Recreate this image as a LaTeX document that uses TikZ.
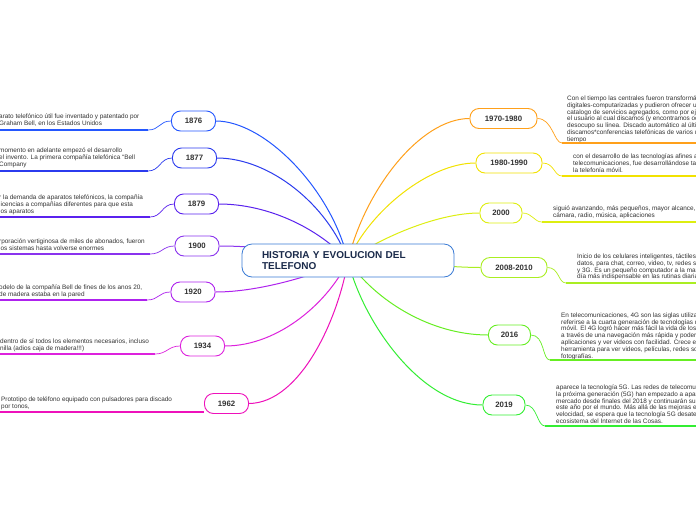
\documentclass[tikz,border=0pt]{standalone}
\usepackage{fontspec}
\setmainfont{Liberation Sans}
\usetikzlibrary{backgrounds}
\definecolor{txt}{HTML}{333333}
\definecolor{ctitle}{HTML}{1A2A4A}
\definecolor{cblue}{HTML}{3A7BD5}
\definecolor{c1876}{HTML}{2457FF}
\definecolor{c1877}{HTML}{2B3BEE}
\definecolor{c1879}{HTML}{5A22EE}
\definecolor{c1900}{HTML}{8A33EE}
\definecolor{c1920}{HTML}{AE22EE}
\definecolor{c1934}{HTML}{DD22DD}
\definecolor{c1962}{HTML}{EE11BB}
\definecolor{c1970}{HTML}{FFA01A}
\definecolor{c1980}{HTML}{F2E200}
\definecolor{c2000}{HTML}{DDEE10}
\definecolor{c2008}{HTML}{AAEE22}
\definecolor{c2016}{HTML}{66EE22}
\definecolor{c2019}{HTML}{33EE33}
\begin{document}
\begin{tikzpicture}[x=1pt,y=-1pt,
  year/.style={draw=#1, line width=0.9pt, rounded corners=9pt, fill=white,
    minimum width=44pt, minimum height=20pt, inner sep=0pt,
    font=\fontsize{7.8}{8}\selectfont\bfseries, text=txt},
  desc/.style={anchor=north west, inner sep=0pt, align=left,
    font=\fontsize{6.4}{6.8}\selectfont, text=txt},
  br/.style={draw=#1, line width=1pt},
  sub/.style={draw=#1, line width=0.7pt},
  ul/.style={draw=#1, line width=1.5pt}
]
\useasboundingbox (0,0) rectangle (696,520);
\clip (0,0) rectangle (696,520);

% central node
\node[draw=cblue, line width=0.8pt, rounded corners=10pt, fill=white,
  minimum width=212pt, minimum height=33pt, inner xsep=20pt, text width=172pt,
  align=left, font=\fontsize{10}{11.5}\selectfont\bfseries, text=ctitle] (c) at (348,260.5)
  {HISTORIA Y EVOLUCION DEL\\TELEFONO};

% year nodes left
\node[year=c1876] (n1876) at (193.5,121) {1876};
\node[year=c1877] (n1877) at (194.5,158) {1877};
\node[year=c1879] (n1879) at (196.5,204) {1879};
\node[year=c1900] (n1900) at (197,246) {1900};
\node[year=c1920] (n1920) at (193,292) {1920};
\node[year=c1934] (n1934) at (202.5,346) {1934};
\node[year=c1962] (n1962) at (226.5,403.5) {1962};
% year nodes right
\node[year=c1970, minimum width=67pt] (n1970) at (503.5,118.5) {1970-1980};
\node[year=c1980, minimum width=66pt] (n1980) at (509,163) {1980-1990};
\node[year=c2000, minimum width=42pt] (n2000) at (501,213) {2000};
\node[year=c2008, minimum width=66pt] (n2008) at (514,267.5) {2008-2010};
\node[year=c2016, minimum width=42pt] (n2016) at (509.5,335) {2016};
\node[year=c2019, minimum width=42pt] (n2019) at (504,405) {2019};

% branches from center (behind nodes)
\begin{scope}[on background layer]
\fill[white] (0,0) rectangle (696,520);
\draw[br=c1876] (c.center) .. controls (332,190) and (265,121) .. (n1876.east);
\draw[br=c1877] (c.center) .. controls (328,205) and (270,158) .. (n1877.east);
\draw[br=c1879] (c.center) .. controls (318,228) and (268,204) .. (n1879.east);
\draw[br=c1900] (c.center) .. controls (300,252) and (260,246) .. (n1900.east);
\draw[br=c1920] (c.center) .. controls (315,275) and (260,292) .. (n1920.east);
\draw[br=c1934] (c.center) .. controls (330,300) and (280,346) .. (n1934.east);
\draw[br=c1962] (c.center) .. controls (338,320) and (300,403) .. (n1962.east);
\draw[br=c1970] (c.center) .. controls (365,190) and (420,118.5) .. (n1970.west);
\draw[br=c1980] (c.center) .. controls (370,210) and (430,163) .. (n1980.west);
\draw[br=c2000] (c.center) .. controls (385,235) and (440,213) .. (n2000.west);
\draw[br=c2008] (c.center) .. controls (400,262) and (450,267.5) .. (n2008.west);
\draw[br=c2016] (c.center) .. controls (375,300) and (430,335) .. (n2016.west);
\draw[br=c2019] (c.center) .. controls (362,320) and (420,405) .. (n2019.west);
\end{scope}

% left descriptions
\node[desc] (t1876) at (-1,113.5) {arato telefónico útil fue inventado y patentado por\\Graham Bell, en los Estados Unidos};
\coordinate (e1876) at (148,130); \coordinate (u1876) at (0,130);
\draw[sub=c1876] (n1876.west) .. controls +(-12,0) and +(12,0) .. (e1876);
\draw[ul=c1876] (e1876) -- (u1876);

\node[desc] (t1877) at (-1,147.5) {momento en adelante empezó el desarrollo\\el invento. La primera compañía telefónica “Bell\\Company};
\coordinate (e1877) at (148,171); \coordinate (u1877) at (0,171);
\draw[sub=c1877] (n1877.west) .. controls +(-12,0) and +(12,0) .. (e1877);
\draw[ul=c1877] (e1877) -- (u1877);

\node[desc] (t1879) at (-1,194.5) {r la demanda de aparatos telefónicos, la compañía\\licencias a compañías diferentes para que esta\\ los aparatos};
\coordinate (e1879) at (150,217); \coordinate (u1879) at (0,217);
\draw[sub=c1879] (n1879.west) .. controls +(-12,0) and +(12,0) .. (e1879);
\draw[ul=c1879] (e1879) -- (u1879);

\node[desc] (t1900) at (-1,238.5) {rporación vertiginosa de miles de abonados, fueron\\los sistemas hasta volverse enormes};
\coordinate (e1900) at (150,254); \coordinate (u1900) at (0,254);
\draw[sub=c1900] (n1900.west) .. controls +(-12,0) and +(12,0) .. (e1900);
\draw[ul=c1900] (e1900) -- (u1900);

\node[desc] (t1920) at (-1,284.5) {odelo de la compañía Bell de fines de los anos 20,\\de madera estaba en la pared};
\coordinate (e1920) at (147,300); \coordinate (u1920) at (0,300);
\draw[sub=c1920] (n1920.west) .. controls +(-12,0) and +(12,0) .. (e1920);
\draw[ul=c1920] (e1920) -- (u1920);

\node[desc] (t1934) at (0,338.5) {dentro de sí todos los elementos necesarios, incluso\\nilla (adios caja de madera!!!)};
\coordinate (e1934) at (155,354); \coordinate (u1934) at (0,354);
\draw[sub=c1934] (n1934.west) .. controls +(-12,0) and +(12,0) .. (e1934);
\draw[ul=c1934] (e1934) -- (u1934);

\node[desc] (t1962) at (1,396.5) {Prototipo de teléfono equipado con pulsadores para discado\\por tonos,};
\coordinate (u1962) at (0,412);
\draw[ul=c1962] (u1962) -- (u1962 -| n1962.west);

% right descriptions
\node[desc] (t1970) at (567,95.5) {Con el tiempo las centrales fueron transformán\\digitales-computarizadas y pudieron ofrecer un\\catalogo de servicios agregados, como por eje\\el usuario al cual discamos (y encontramos oc\\desocupo su línea. Discado automático al últim\\discamos*conferencias telefónicas de varios u\\tiempo};
\coordinate (e1970) at (562,143); \coordinate (u1970) at (696,143);
\draw[sub=c1970] (n1970.east) .. controls +(15,0) and +(-8,0) .. (e1970);
\draw[ul=c1970] (e1970) -- (u1970);

\node[desc] (t1980) at (573,153.5) {con el desarrollo de las tecnologías afines a l\\telecomunicaciones, fue desarrollándose tam\\la telefonía móvil.};
\coordinate (e1980) at (562,176); \coordinate (u1980) at (696,176);
\draw[sub=c1980] (n1980.east) .. controls +(12,0) and +(-8,0) .. (e1980);
\draw[ul=c1980] (e1980) -- (u1980);

\node[desc] (t2000) at (553,205.5) {siguió avanzando, más  pequeños, mayor alcance, c\\cámara, radio, música, aplicaciones};
\coordinate (e2000) at (542,222); \coordinate (u2000) at (696,222);
\draw[sub=c2000] (n2000.east) .. controls +(10,0) and +(-8,0) .. (e2000);
\draw[ul=c2000] (e2000) -- (u2000);

\node[desc] (t2008) at (577,253.5) {Inicio de los celulares inteligentes, táctiles, s\\datos, para chat, correo, video, tv, redes s\\y 3G.  Es un pequeño computador a la mar\\día más indispensable en las rutinas diarias};
\coordinate (e2008) at (566,283); \coordinate (u2008) at (696,283);
\draw[sub=c2008] (n2008.east) .. controls +(12,0) and +(-8,0) .. (e2008);
\draw[ul=c2008] (e2008) -- (u2008);

\node[desc] (t2016) at (561,312.5) {En telecomunicaciones, 4G son las siglas utilizad\\referirse a la cuarta generación de tecnologías de\\móvil. El 4G logró hacer  más fácil la vida de los\\a través de una navegación más rápida y poder\\aplicaciones y ver videos con facilidad.   Crece el\\herramienta para ver videos, películas, redes soc\\fotografías.};
\coordinate (e2016) at (550,360); \coordinate (u2016) at (696,360);
\draw[sub=c2016] (n2016.east) .. controls +(14,0) and +(-8,0) .. (e2016);
\draw[ul=c2016] (e2016) -- (u2016);

\node[desc] (t2019) at (556,384.5) {aparece la tecnología 5G. Las redes de telecomuni\\la próxima generación (5G) han empezado a apare\\mercado desde finales del 2018 y continuarán su e\\este año por el mundo. Más allá de las mejoras en\\velocidad, se espera que la tecnología 5G desate f\\ecosistema del Internet de las Cosas.};
\coordinate (e2019) at (545,426); \coordinate (u2019) at (696,426);
\draw[sub=c2019] (n2019.east) .. controls +(12,0) and +(-8,0) .. (e2019);
\draw[ul=c2019] (e2019) -- (u2019);
\end{tikzpicture}
\end{document}
